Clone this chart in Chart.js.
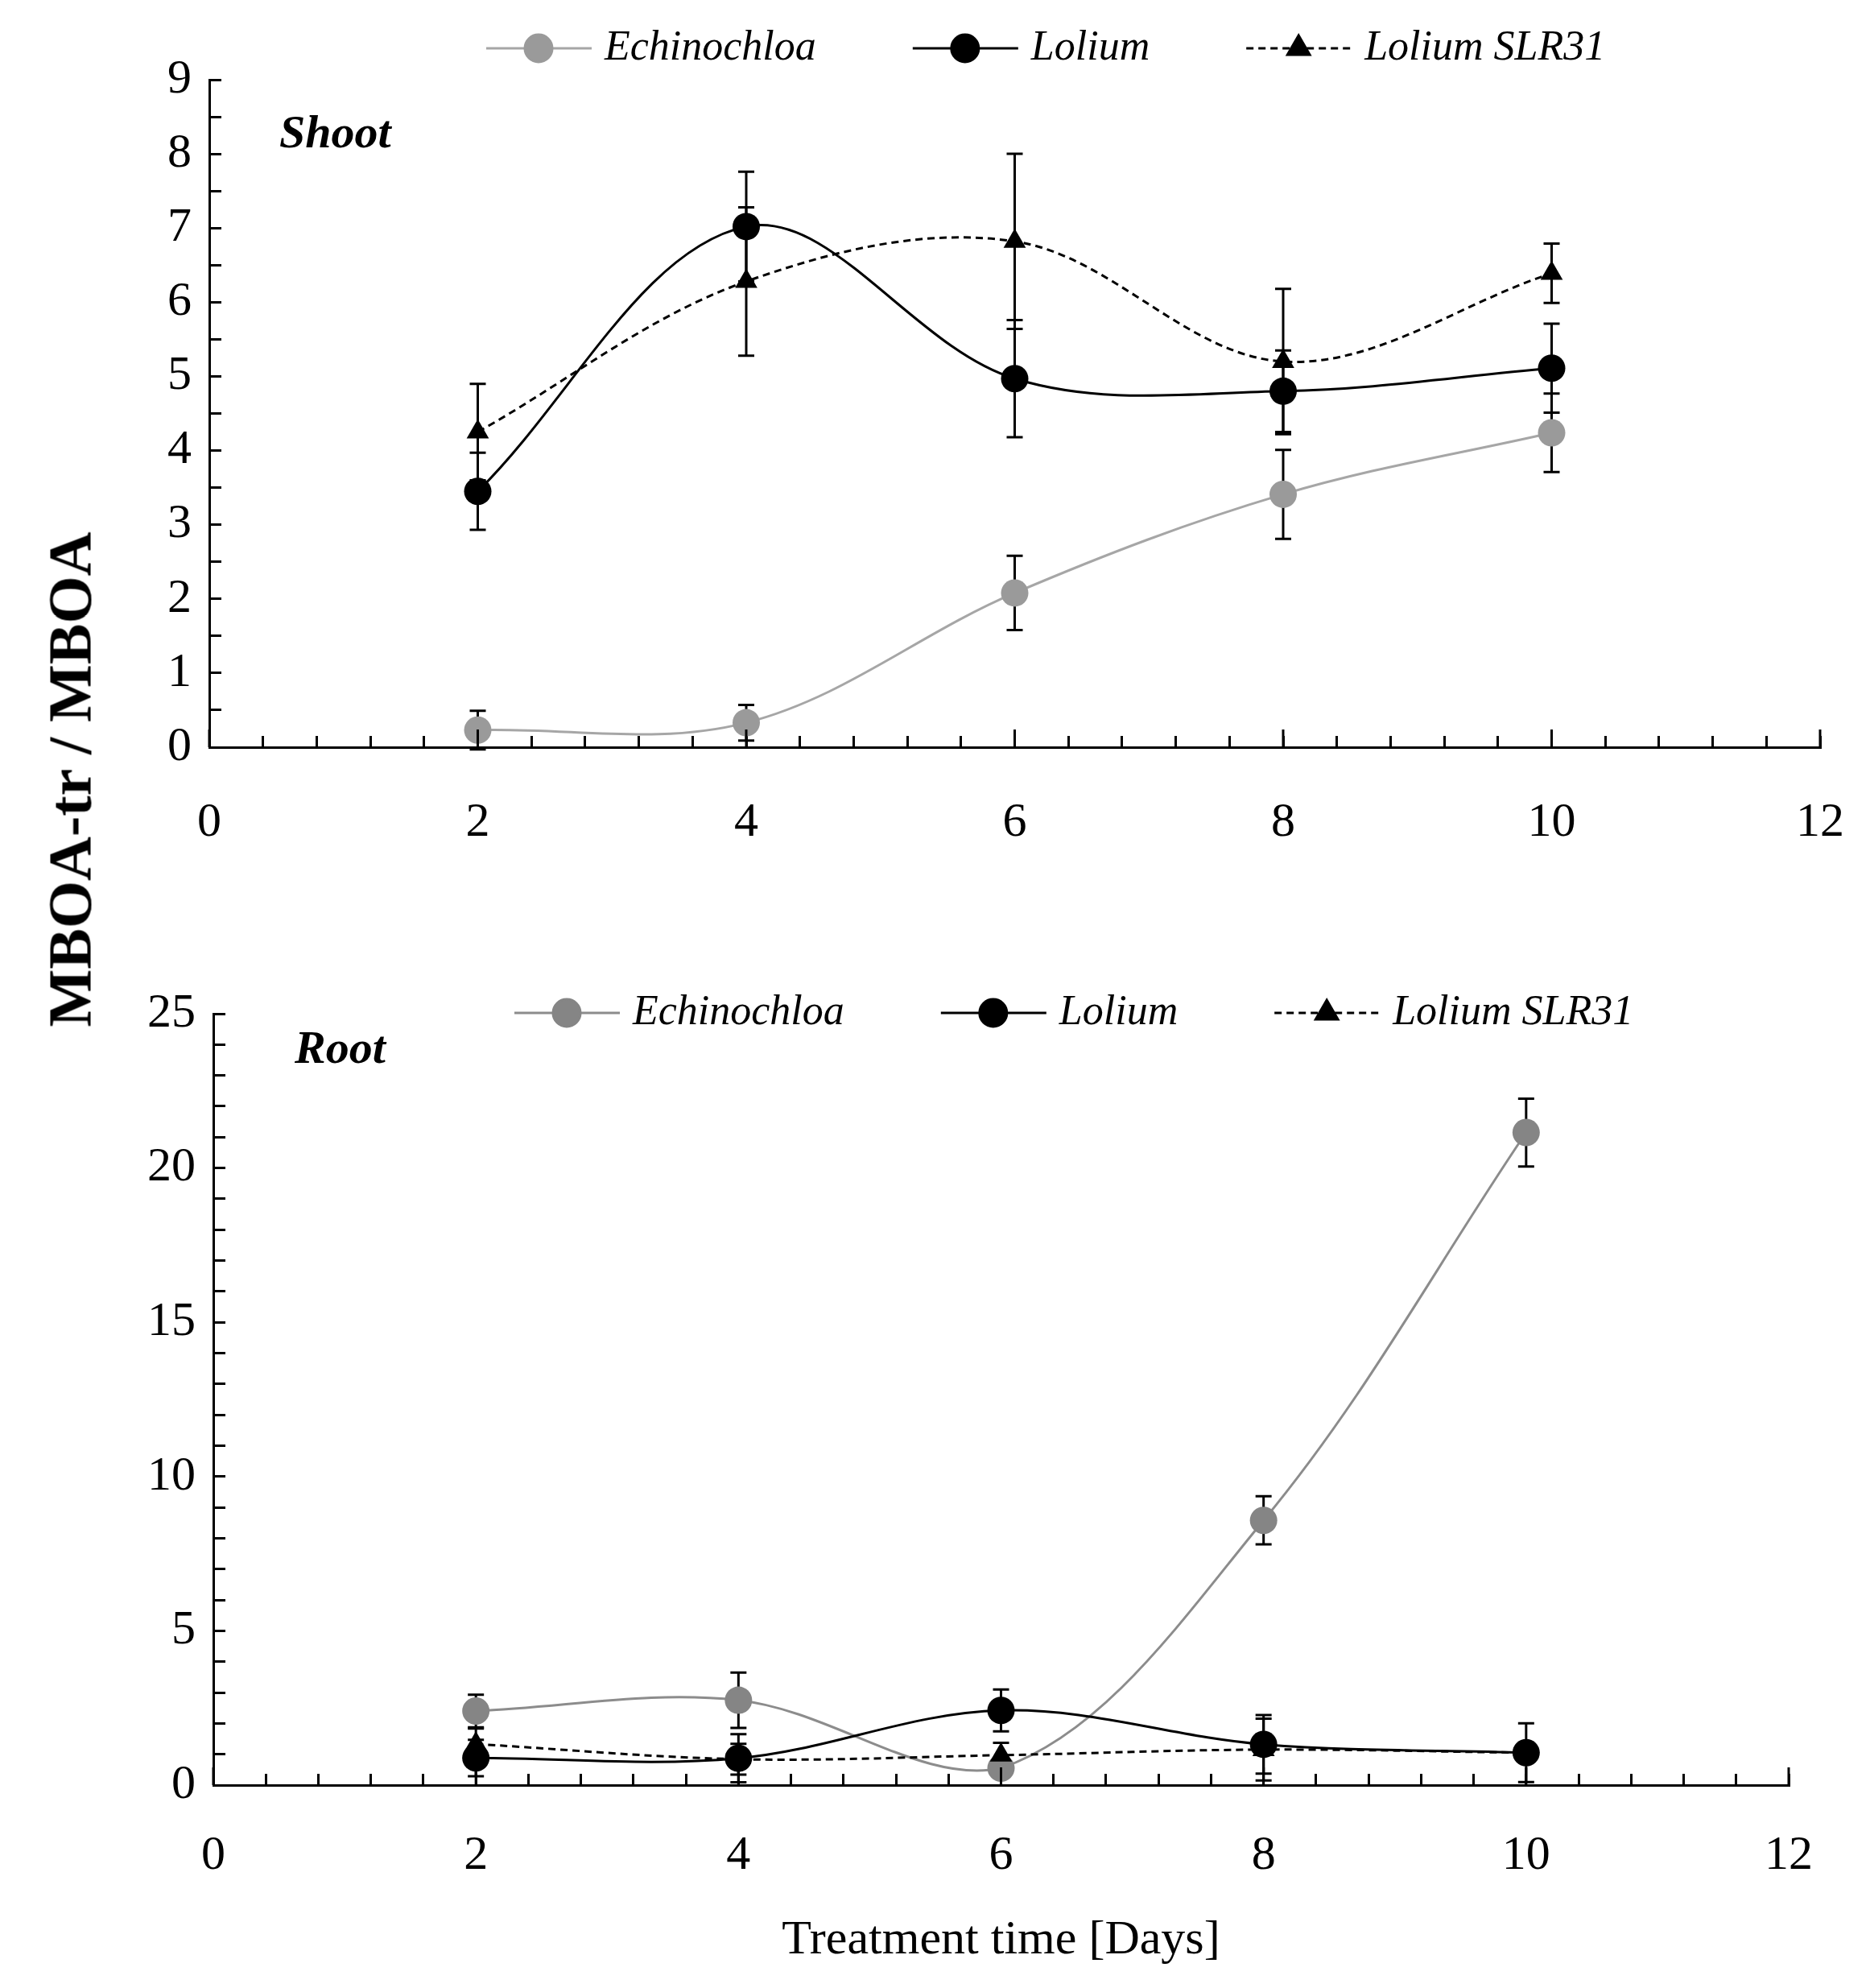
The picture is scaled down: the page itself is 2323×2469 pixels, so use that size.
<!DOCTYPE html>
<html>
<head>
<meta charset="utf-8">
<script src="https://cdn.jsdelivr.net/npm/chart.js@4.4.0/dist/chart.umd.min.js"></script>
<style>
body { margin: 0; background: #fff; }
#page { position: relative; width: 2323px; height: 2469px; background: #fff; overflow: hidden; }
.box { position: absolute; left: 0; width: 2323px; }
#yTitle {
    position: absolute; left: 87px; top: 968px;
    transform: translate(-50%, -50%) rotate(-90deg);
    font: bold 76px "Liberation Serif", serif; white-space: nowrap; color: #000;
}
</style>
</head>
<body>
<div id="page">
    <div class="box" style="top:0;height:1150px"><canvas id="shoot_chart"></canvas></div>
    <div class="box" style="top:1150px;height:1319px"><canvas id="root_chart"></canvas></div>
    <div id="yTitle">MBOA-tr / MBOA</div>
</div>
<script>
// sampling days
var days = [2, 4, 6, 8, 10];
var seriesNames = ["Echinochloa", "Lolium", "Lolium SLR31"];

// shoot panel
var shootEchino = [0.23, 0.33, 2.08, 3.41, 4.24];
var shootEchinoErr = [0.26, 0.24, 0.5, 0.6, 0.53];
var shootLolium = [3.45, 7.02, 4.97, 4.8, 5.11];
var shootLoliumErr = [0.52, 0.74, 0.79, 0.55, 0.6];
var shootSlr = [4.25, 6.28, 6.82, 5.2, 6.39];
var shootSlrErr = [0.65, 1.0, 1.18, 0.98, 0.4];

// root panel
var rootEchino = [2.4, 2.75, 0.55, 8.58, 21.15];
var rootEchinoErr = [0.53, 0.9, 0.2, 0.78, 1.1];
var rootLolium = [0.88, 0.87, 2.42, 1.32, 1.05];
var rootLoliumErr = [0.59, 0.78, 0.68, 0.95, 0.95];
var rootSlr = [1.33, 0.84, 0.97, 1.15, 1.05];
var rootSlrErr = [0.5, 0.5, 0.4, 1.0, 0.3];

// axis ticks
var xMax = 12, xMinorStep = 0.4, xLabelStep = 2;
var shootYMax = 9, shootYStep = 0.5, shootYLabelStep = 1;
var rootYMax = 25, rootYStep = 1, rootYLabelStep = 5;

var SERIF = '"Liberation Serif", "Times New Roman", serif';
Chart.defaults.font.family = SERIF;
Chart.defaults.color = '#000';

function pts(vals) {
    return days.map(function (d, i) { return { x: d, y: vals[i] }; });
}

function isStep(v, step) {
    var r = Math.round(v / step) * step;
    return Math.abs(v - r) < 1e-6;
}

function labelEvery(step) {
    return function (v) {
        return isStep(v, step) ? String(Math.round(v)) : '';
    };
}

var errorBars = {
    id: 'errorBars',
    beforeDatasetsDraw: function (chart) {
        var ctx = chart.ctx, xs = chart.scales.x, ys = chart.scales.y;
        ctx.save();
        ctx.strokeStyle = '#000';
        ctx.lineWidth = 3;
        chart.data.datasets.forEach(function (ds) {
            ds.data.forEach(function (p, i) {
                var e = ds.errors[i];
                var px = xs.getPixelForValue(p.x);
                var t = ys.getPixelForValue(p.y + e);
                var b = ys.getPixelForValue(p.y - e);
                ctx.beginPath();
                ctx.moveTo(px, t); ctx.lineTo(px, b);
                ctx.moveTo(px - 10, t); ctx.lineTo(px + 10, t);
                ctx.moveTo(px - 10, b); ctx.lineTo(px + 10, b);
                ctx.stroke();
            });
        });
        ctx.restore();
    }
};

// longer tick marks at the labelled days
var majorTicks = {
    id: 'majorTicks',
    afterDraw: function (chart) {
        var ctx = chart.ctx, xs = chart.scales.x, y0 = chart.chartArea.bottom;
        ctx.save();
        ctx.strokeStyle = '#000';
        ctx.lineWidth = 3;
        xs.ticks.forEach(function (t) {
            if (!isStep(t.value, xLabelStep)) return;
            var px = xs.getPixelForValue(t.value);
            ctx.beginPath();
            ctx.moveTo(px, y0); ctx.lineTo(px, y0 - 22);
            ctx.stroke();
        });
        ctx.restore();
    }
};

var sideLegend = {
    id: 'sideLegend',
    afterDraw: function (chart, args, opts) {
        var ctx = chart.ctx;
        var x = opts.x;
        ctx.save();
        ctx.font = 'italic 52px ' + SERIF;
        ctx.textBaseline = 'middle';
        chart.data.datasets.forEach(function (ds) {
            ctx.strokeStyle = ds.borderColor;
            ctx.lineWidth = ds.borderWidth;
            ctx.setLineDash(ds.borderDash || []);
            ctx.beginPath();
            ctx.moveTo(x, opts.y); ctx.lineTo(x + 131, opts.y);
            ctx.stroke();
            ctx.setLineDash([]);
            ctx.fillStyle = ds.pointBackgroundColor;
            ctx.strokeStyle = ds.pointBackgroundColor;
            Chart.helpers.drawPoint(ctx, { pointStyle: ds.pointStyle, radius: ds.pointRadius, rotation: 0, borderWidth: 1 }, x + 65, opts.y);
            ctx.fillStyle = '#000';
            ctx.fillText(ds.label, x + 147, opts.y);
            x += 147 + ctx.measureText(ds.label).width + 120;
        });
        ctx.restore();
    }
};

var panelLabel = {
    id: 'panelLabel',
    afterDraw: function (chart, args, opts) {
        var ctx = chart.ctx;
        ctx.save();
        ctx.font = 'italic bold 58px ' + SERIF;
        ctx.fillStyle = '#000';
        ctx.textBaseline = 'middle';
        ctx.fillText(opts.text, opts.x, opts.y);
        ctx.restore();
    }
};

function getChartJs(panel) {
    var isShoot = panel === 'shoot';
    var echinoLine = isShoot ? '#a6a6a6' : '#8c8c8c';
    var echinoDot = isShoot ? '#9a9a9a' : '#858585';
    var vals = isShoot ? [shootEchino, shootLolium, shootSlr] : [rootEchino, rootLolium, rootSlr];
    var errs = isShoot ? [shootEchinoErr, shootLoliumErr, shootSlrErr] : [rootEchinoErr, rootLoliumErr, rootSlrErr];
    var yMax = isShoot ? shootYMax : rootYMax;

    var config = {
        type: 'line',
        data: {
            datasets: [{
                label: seriesNames[0],
                data: pts(vals[0]),
                errors: errs[0],
                borderColor: echinoLine,
                borderWidth: 3,
                pointStyle: 'circle',
                pointRadius: 17,
                pointBackgroundColor: echinoDot,
                pointBorderColor: echinoDot,
                pointBorderWidth: 0,
                order: 3
            }, {
                label: seriesNames[1],
                data: pts(vals[1]),
                errors: errs[1],
                borderColor: '#000',
                borderWidth: 3,
                pointStyle: 'circle',
                pointRadius: 17,
                pointBackgroundColor: '#000',
                pointBorderColor: '#000',
                pointBorderWidth: 0,
                order: 2
            }, {
                label: seriesNames[2],
                data: pts(vals[2]),
                errors: errs[2],
                borderColor: '#000',
                borderWidth: 3,
                borderDash: [9, 6],
                pointStyle: 'triangle',
                pointRadius: 16,
                pointBackgroundColor: '#000',
                pointBorderColor: '#000',
                pointBorderWidth: 0,
                order: 1
            }]
        },
        options: {
            responsive: true,
            maintainAspectRatio: false,
            devicePixelRatio: 1,
            animation: false,
            tension: 0.35,
            layout: {
                padding: isShoot ? { left: 0, right: 62, top: 99, bottom: 62 }
                                 : { left: 0, right: 101, top: 109, bottom: 0 }
            },
            plugins: {
                legend: { display: false },
                tooltip: { enabled: false },
                sideLegend: isShoot ? { x: 604, y: 60 } : { x: 639, y: 108 },
                panelLabel: isShoot ? { text: 'Shoot', x: 347, y: 168 } : { text: 'Root', x: 366, y: 155 }
            },
            scales: {
                x: {
                    type: 'linear',
                    min: 0,
                    max: xMax,
                    border: { display: true, color: '#000', width: 3 },
                    grid: { drawOnChartArea: false, drawTicks: true, tickLength: -14, tickColor: '#000', tickWidth: 3 },
                    ticks: {
                        stepSize: xMinorStep,
                        autoSkip: false,
                        maxRotation: 0,
                        padding: isShoot ? 72 : 66,
                        color: '#000',
                        font: { size: 60 },
                        callback: labelEvery(xLabelStep)
                    },
                    title: isShoot ? { display: false } : {
                        display: true,
                        text: 'Treatment time [Days]',
                        color: '#000',
                        font: { size: 60 },
                        padding: { top: 0, bottom: 23 }
                    },
                    afterFit: function (s) {
                        s.height = isShoot ? 160 : 252;
                        s.paddingLeft = 0;
                        s.paddingRight = 0;
                    }
                },
                y: {
                    min: 0,
                    max: yMax,
                    border: { display: true, color: '#000', width: 3 },
                    grid: { drawOnChartArea: false, drawTicks: true, tickLength: -15, tickColor: '#000', tickWidth: 3 },
                    ticks: {
                        stepSize: isShoot ? shootYStep : rootYStep,
                        autoSkip: false,
                        padding: 37,
                        color: '#000',
                        font: { size: 60 },
                        callback: labelEvery(isShoot ? shootYLabelStep : rootYLabelStep)
                    },
                    afterFit: function (s) { s.width = isShoot ? 260 : 265; }
                }
            }
        },
        plugins: [errorBars, majorTicks, sideLegend, panelLabel]
    };
    return config;
}

new Chart(document.getElementById('shoot_chart').getContext('2d'), getChartJs('shoot'));
new Chart(document.getElementById('root_chart').getContext('2d'), getChartJs('root'));
</script>
</body>
</html>
